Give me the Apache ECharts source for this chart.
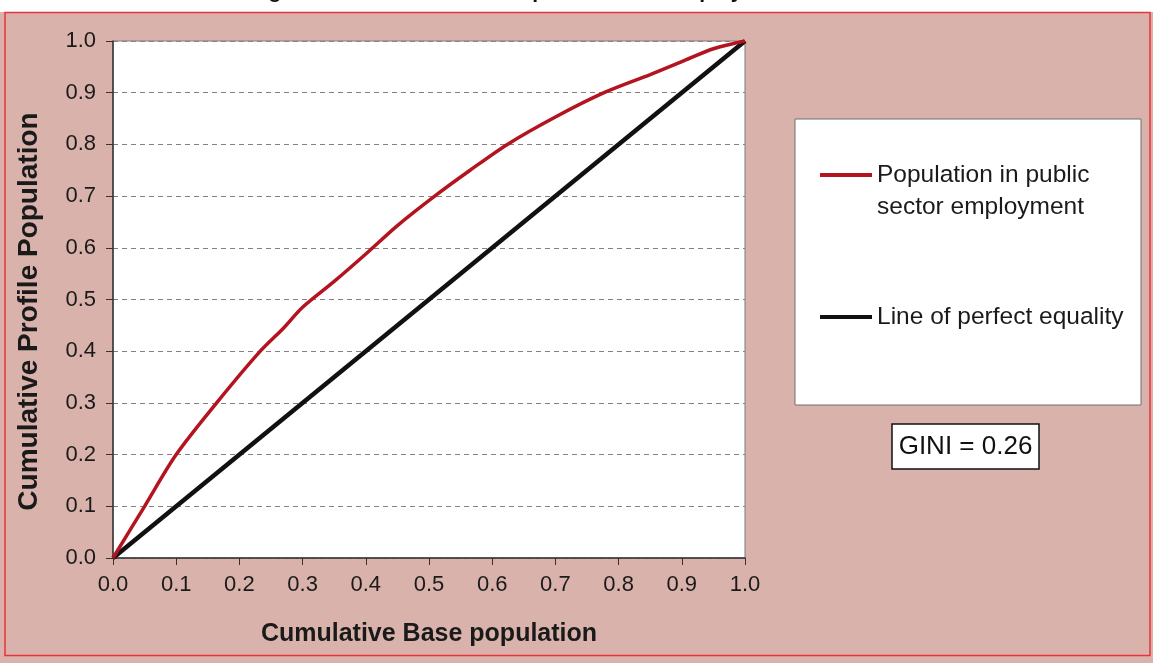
<!DOCTYPE html>
<html>
<head>
<meta charset="utf-8">
<script src="https://cdn.jsdelivr.net/npm/echarts@6/dist/echarts.min.js"></script>
<style>
html,body{margin:0;padding:0;background:#ffffff;}
#chart{width:1153px;height:663px;}
</style>
</head>
<body>
<div id="chart"></div>
<script>
// ---- data ----
const titleText = "Figure 5.9: Lorenz curve for public sector employment with 8 cluster solution";
const xTitle = "Cumulative Base population";
const yTitle = "Cumulative Profile Population";
const seriesNames = ["Population in public\nsector employment", "Line of perfect equality"];
const giniText = "GINI = 0.26";
// Lorenz curve (cumulative base x, cumulative profile y)
const curveX = [0, 0.05, 0.10, 0.164, 0.233, 0.27, 0.30, 0.35, 0.40, 0.45, 0.509, 0.565, 0.624, 0.70, 0.777, 0.85, 0.90, 0.95, 1.0];
const curveY = [0, 0.10, 0.20, 0.30, 0.40, 0.445, 0.485, 0.535, 0.588, 0.643, 0.70, 0.75, 0.80, 0.853, 0.90, 0.935, 0.96, 0.985, 1.0];
const equalX = [0, 1];
const equalY = [0, 1];

const chart = echarts.init(document.getElementById('chart'));
const font = "Liberation Sans, Arial, sans-serif";
const option = {
  backgroundColor: '#d9b3ab',
  animation: false,
  textStyle: {fontFamily: font},
  grid: {left: 113, right: 408, top: 41, bottom: 105, show: true, backgroundColor: '#ffffff', borderColor: '#7a7a7a', borderWidth: 1},
  xAxis: {
    type: 'value', min: 0, max: 1, interval: 0.1,
    name: xTitle, nameLocation: 'middle', nameGap: 64,
    nameTextStyle: {fontFamily: font, fontSize: 25, fontWeight: 'bold', color: '#1a1a1a'},
    axisLine: {show: true, lineStyle: {color: '#333', width: 1.5}},
    axisTick: {show: true, length: 7, lineStyle: {color: '#333'}},
    axisLabel: {fontFamily: font, fontSize: 22, color: '#1a1a1a', margin: 16, formatter: v => v.toFixed(1)},
    splitLine: {show: false}
  },
  yAxis: {
    type: 'value', min: 0, max: 1, interval: 0.1,
    name: yTitle, nameLocation: 'middle', nameGap: 70,
    nameTextStyle: {fontFamily: font, fontSize: 28, fontWeight: 'bold', color: '#1a1a1a', padding: [0, 24, 0, 0]},
    axisLine: {show: true, lineStyle: {color: '#333', width: 1.5}},
    axisTick: {show: true, length: 7, lineStyle: {color: '#333'}},
    axisLabel: {fontFamily: font, fontSize: 22, color: '#1a1a1a', margin: 17, formatter: v => v.toFixed(1)},
    splitLine: {show: true, lineStyle: {color: '#8a7f80', width: 1, type: [5, 4]}}
  },
  legend: {
    orient: 'vertical', left: 815, top: 122,
    itemGap: 78, itemWidth: 52, itemHeight: 4,
    icon: 'rect',
    textStyle: {fontFamily: font, fontSize: 24.5, color: '#1a1a1a', lineHeight: 32},
    formatter: name => name.indexOf('\n') >= 0 ? ' \n' + name : name,
    data: seriesNames
  },
  graphic: [
    {type: 'rect', z: -1, silent: true, shape: {x: 0, y: 0, width: 1153, height: 12}, style: {fill: '#ffffff'}},
    {type: 'text', z: 0, silent: true, x: 635, y: 3, style: {text: titleText, fontFamily: font, fontSize: 21, fontWeight: 'bold', fill: '#111', align: 'center', verticalAlign: 'bottom'}},
    {type: 'rect', z: 0, silent: true, shape: {x: 5, y: 12.5, width: 1145, height: 643}, style: {fill: 'none', stroke: '#e8323c', lineWidth: 1.5}},
    {type: 'rect', z: 1, silent: true, shape: {x: 795, y: 119, width: 346, height: 286}, style: {fill: '#ffffff', stroke: '#6e6e6e', lineWidth: 1}},
    {type: 'rect', z: 1, silent: true, shape: {x: 892, y: 424, width: 147, height: 45}, style: {fill: '#ffffff', stroke: '#111', lineWidth: 1.5}},
    {type: 'text', z: 2, silent: true, x: 965.5, y: 447, style: {text: giniText, fontFamily: font, fontSize: 26, fill: '#111', align: 'center', verticalAlign: 'middle'}}
  ],
  series: [
    {
      name: seriesNames[0], type: 'line', smooth: 0.3, showSymbol: false, z: 3,
      data: curveX.map((x, i) => [x, curveY[i]]),
      lineStyle: {color: '#b3141f', width: 3.5}, itemStyle: {color: '#b3141f'}
    },
    {
      name: seriesNames[1], type: 'line', showSymbol: false, z: 2,
      data: equalX.map((x, i) => [x, equalY[i]]),
      lineStyle: {color: '#111111', width: 4.5}, itemStyle: {color: '#111111'}
    }
  ]
};
chart.setOption(option);
</script>
</body>
</html>
